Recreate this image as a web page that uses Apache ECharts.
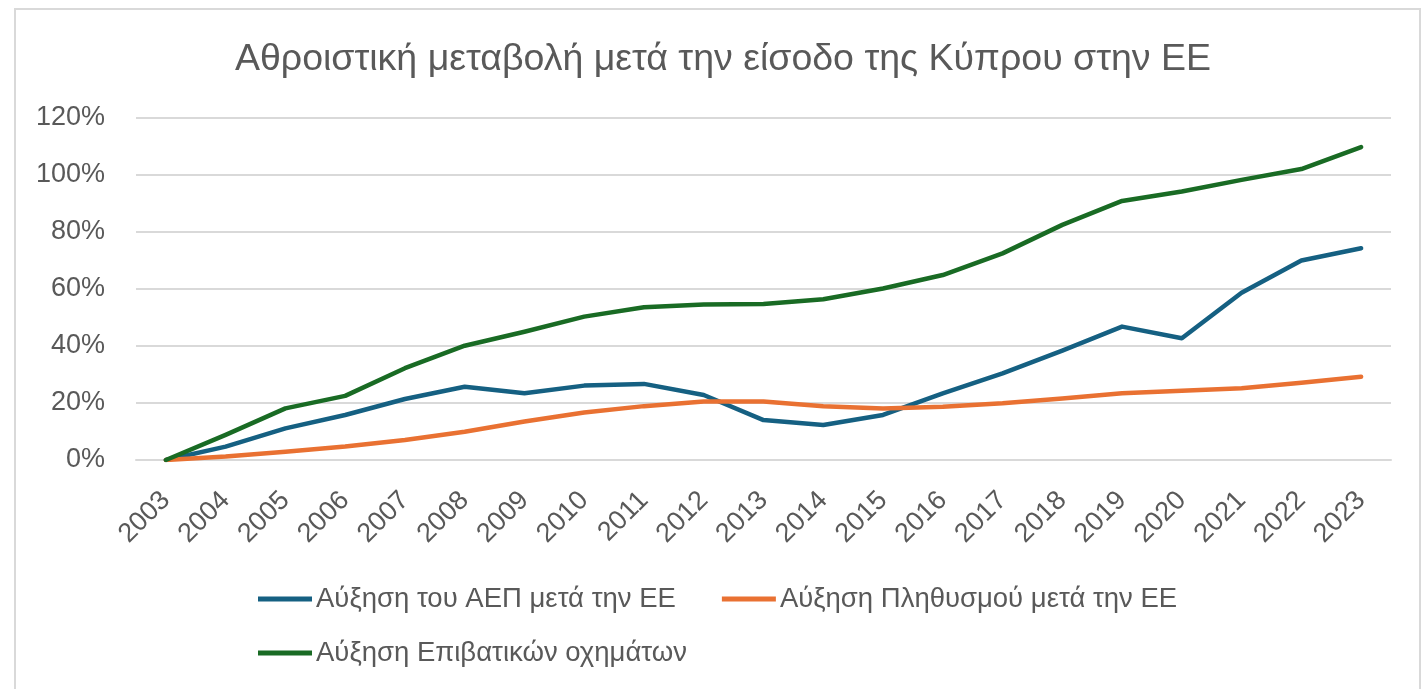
<!DOCTYPE html>
<html>
<head>
<meta charset="utf-8">
<style>
  html, body { margin: 0; padding: 0; background: #fff; }
  #main { width: 1423px; height: 689px; }
</style>
<script src="https://cdn.jsdelivr.net/npm/echarts@6/dist/echarts.min.js"></script>
</head>
<body>
<div id="main"></div>
<script>
// years on the category axis
var years = ['2003', '2004', '2005', '2006', '2007', '2008', '2009', '2010', '2011', '2012',
  '2013', '2014', '2015', '2016', '2017', '2018', '2019', '2020', '2021', '2022', '2023'];
// cumulative change, in percent
var gdpGrowth = [0, 4.7, 11.1, 15.8, 21.4, 25.7, 23.4, 26.1, 26.7, 22.8, 14.0,
  12.3, 15.8, 23.4, 30.4, 38.4, 46.8, 42.7, 58.7, 70.0, 74.3];
var popGrowth = [0, 1.2, 2.9, 4.7, 7.0, 9.9, 13.5, 16.7, 18.9, 20.5, 20.5,
  18.9, 18.1, 18.7, 19.9, 21.6, 23.4, 24.3, 25.2, 27.1, 29.2];
var carGrowth = [0, 8.8, 18.1, 22.5, 32.2, 40.1, 45.0, 50.3, 53.6, 54.6, 54.7,
  56.4, 60.2, 64.9, 72.5, 82.5, 90.9, 94.2, 98.3, 102.1, 109.8];
var seriesNames = ['Αύξηση του ΑΕΠ μετά την ΕΕ', 'Αύξηση Πληθυσμού μετά την ΕΕ', 'Αύξηση Επιβατικών οχημάτων'];
var yTicks = [0, 20, 40, 60, 80, 100, 120];

var font = '"Liberation Sans", Arial, sans-serif';
var textColor = '#595959';

var chart = echarts.init(document.getElementById('main'));

function lineSeries(name, data, color) {
  return {
    name: name,
    type: 'line',
    data: data,
    symbol: 'none',
    lineStyle: { color: color, width: 4.5, cap: 'round', join: 'round' },
    itemStyle: { color: color }
  };
}

// legend look, shared by both rows
var legendBase = {
  left: 258,
  padding: 0,
  icon: 'rect',
  itemWidth: 54,
  itemHeight: 5,
  itemGap: 46,
  textStyle: { fontFamily: font, fontSize: 27.5, color: textColor, padding: [0, 0, 0, -1] }
};

var option = {
  backgroundColor: '#fff',
  animation: false,
  textStyle: { fontFamily: font },
  graphic: [{
    type: 'rect',
    shape: { x: 15, y: 9, width: 1405, height: 700 },
    style: { fill: 'none', stroke: '#d9d9d9', lineWidth: 2 },
    silent: true
  }],
  title: {
    text: 'Αθροιστική μεταβολή μετά την είσοδο της Κύπρου στην ΕΕ',
    left: 718,
    textAlign: 'center',
    top: 36,
    textStyle: { fontFamily: font, fontSize: 37.5, fontWeight: 'normal', color: textColor }
  },
  legend: [
    Object.assign({}, legendBase, { data: [seriesNames[0], seriesNames[1]], top: 585 }),
    Object.assign({}, legendBase, { data: [seriesNames[2]], top: 639 })
  ],
  grid: { left: 136, right: 32, top: 118, bottom: 229 },
  xAxis: {
    type: 'category',
    data: years,
    boundaryGap: true,
    axisTick: { show: false },
    axisLine: { lineStyle: { color: '#d9d9d9', width: 2 } },
    axisLabel: {
      interval: 0,
      rotate: 45,
      margin: 36,
      fontFamily: font,
      fontSize: 27,
      color: textColor
    }
  },
  yAxis: {
    type: 'value',
    min: yTicks[0],
    max: yTicks[yTicks.length - 1],
    interval: 20,
    axisLine: { show: false },
    axisTick: { show: false },
    splitLine: { lineStyle: { color: '#d9d9d9', width: 2 } },
    axisLabel: {
      formatter: '{value}%',
      margin: 31,
      fontFamily: font,
      fontSize: 27,
      color: textColor
    }
  },
  series: [
    lineSeries(seriesNames[0], gdpGrowth, '#156082'),
    lineSeries(seriesNames[1], popGrowth, '#E97132'),
    lineSeries(seriesNames[2], carGrowth, '#196B24')
  ]
};

chart.setOption(option);
</script>
</body>
</html>
